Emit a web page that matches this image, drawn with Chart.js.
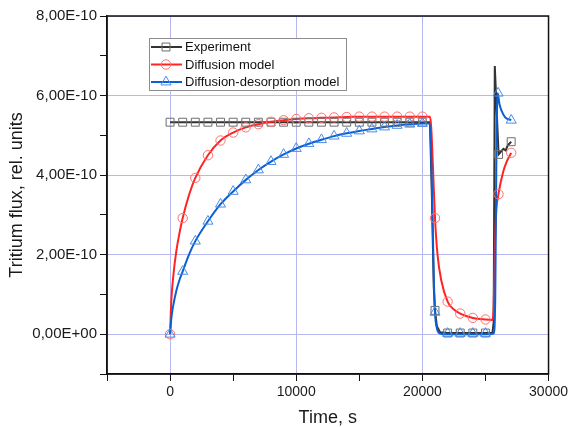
<!DOCTYPE html>
<html>
<head>
<meta charset="utf-8">
<script src="https://cdn.jsdelivr.net/npm/chart.js@4.4.1/dist/chart.umd.min.js"></script>
<style>
html, body { margin: 0; padding: 0; background: #fff; }
#wrap { width: 571px; height: 427px; }
</style>
</head>
<body>
<div id="wrap"><canvas id="chart_tritiumFlux"></canvas></div>
<script>
// time in s, flux in units of 1E-10 (rel. units)
var expLineTime = [0, 20600, 20750, 20900, 21000, 21150, 21400, 22000, 25000, 25550, 25650, 25740, 26040, 26250, 26430, 26600, 26770, 27040];
var expLineFlux = [5.33, 5.33, 3.5, 1.2, 0.6, 0.2, 0.05, 0.03, 0.03, 0.03, 0.3, 6.74, 4.52, 4.6, 4.66, 4.62, 4.75, 4.84];
var expMarkTime = [0, 1000, 2000, 3000, 4000, 5000, 6000, 7000, 8000, 9000, 10000, 11000, 12000, 13000, 14000, 15000, 16000, 17000, 18000, 19000, 20000, 21000, 22000, 23000, 24000, 25000, 26040, 27040];
var expMarkFlux = [5.33, 5.33, 5.33, 5.33, 5.33, 5.33, 5.33, 5.33, 5.33, 5.33, 5.33, 5.33, 5.33, 5.33, 5.33, 5.33, 5.33, 5.33, 5.33, 5.33, 5.33, 0.6, 0.03, 0.03, 0.03, 0.03, 4.52, 4.84];

var difLineTime = [0, 100, 250, 500, 750, 1000, 1500, 2000, 3000, 4000, 5000, 6000, 7000, 8000, 9000, 10000, 11000, 12000, 13000, 14000, 15000, 20000, 20600, 20700, 20850, 21000, 21200, 21500, 22000, 22500, 23000, 24000, 25000, 25550, 25650, 25750, 25850, 26030, 26400, 26700, 27040];
var difLineFlux = [0, 0.85, 1.45, 2.1, 2.55, 2.92, 3.5, 3.93, 4.5, 4.87, 5.07, 5.2, 5.28, 5.34, 5.38, 5.41, 5.43, 5.44, 5.45, 5.46, 5.47, 5.47, 5.47, 5.2, 4.1, 2.92, 2.0, 1.35, 0.82, 0.62, 0.52, 0.41, 0.37, 0.36, 0.7, 2.2, 3.05, 3.52, 4.08, 4.35, 4.56];
var difMarkTime = [0, 1000, 2000, 3000, 4000, 5000, 6000, 7000, 8000, 9000, 10000, 11000, 12000, 13000, 14000, 15000, 16000, 17000, 18000, 19000, 20000, 21000, 22000, 23000, 24000, 25000, 26030, 27040];
var difMarkFlux = [0, 2.92, 3.93, 4.5, 4.87, 5.07, 5.2, 5.28, 5.34, 5.38, 5.41, 5.43, 5.44, 5.45, 5.46, 5.47, 5.47, 5.47, 5.47, 5.47, 5.47, 2.92, 0.82, 0.52, 0.41, 0.37, 3.52, 4.56];

var desLineTime = [0, 100, 250, 500, 750, 1000, 1500, 2000, 3000, 4000, 5000, 6000, 7000, 8000, 9000, 10000, 11000, 12000, 13000, 14000, 15000, 16000, 17000, 18000, 19000, 20000, 20600, 20750, 20900, 21000, 21150, 21400, 22000, 25000, 25650, 25780, 25880, 25980, 26100, 26300, 26560, 27040];
var desLineFlux = [0, 0.4, 0.72, 1.1, 1.37, 1.58, 2.0, 2.34, 2.84, 3.27, 3.59, 3.88, 4.13, 4.34, 4.52, 4.67, 4.79, 4.89, 4.98, 5.05, 5.11, 5.16, 5.21, 5.25, 5.28, 5.3, 5.3, 3.8, 1.5, 0.55, 0.15, 0.02, 0, 0, 0.02, 1.0, 5.0, 6.06, 5.8, 5.6, 5.45, 5.38];
var desMarkTime = [0, 1000, 2000, 3000, 4000, 5000, 6000, 7000, 8000, 9000, 10000, 11000, 12000, 13000, 14000, 15000, 16000, 17000, 18000, 19000, 20000, 21000, 22000, 23000, 24000, 25000, 26000, 27040];
var desMarkFlux = [0, 1.58, 2.34, 2.84, 3.27, 3.59, 3.88, 4.13, 4.34, 4.52, 4.67, 4.79, 4.89, 4.98, 5.05, 5.11, 5.16, 5.21, 5.25, 5.28, 5.3, 0.55, 0.02, 0.02, 0.02, 0.02, 6.06, 5.38];

var legendLabels = ['Experiment', 'Diffusion model', 'Diffusion-desorption model'];

var FONT = "'Liberation Sans', Arial, sans-serif";

function pts(t, y) {
    return t.map(function (v, i) { return { x: v, y: y[i] }; });
}

var series = [
    { line: '#333333', mark: '#6e6e6e', style: 'rect', radius: 5.6 },
    { line: '#ff2424', mark: '#ff7070', style: 'circle', radius: 4.7 },
    { line: '#0b5fd4', mark: '#4a8ce8', style: 'triangle', radius: 5.8 }
];

function drawMarker(ctx, style, x, y, r) {
    ctx.beginPath();
    if (style === 'rect') {
        var s = Math.SQRT1_2 * r;
        ctx.rect(x - s, y - s, 2 * s, 2 * s);
    } else if (style === 'circle') {
        ctx.arc(x, y, r, 0, Math.PI * 2);
    } else {
        var a = 0;
        ctx.moveTo(x + Math.sin(a) * r, y - Math.cos(a) * r);
        a += Math.PI * 2 / 3;
        ctx.lineTo(x + Math.sin(a) * r, y - Math.cos(a) * r);
        a += Math.PI * 2 / 3;
        ctx.lineTo(x + Math.sin(a) * r, y - Math.cos(a) * r);
        ctx.closePath();
    }
    ctx.stroke();
}

var chart_tritiumFlux = new Chart(document.getElementById('chart_tritiumFlux'), {
    type: 'line',
    data: {
        datasets: [
            { data: pts(desMarkTime, desMarkFlux), showLine: false, pointStyle: 'triangle', pointRadius: series[2].radius, pointBorderColor: series[2].mark, pointBackgroundColor: 'rgba(0,0,0,0)', pointBorderWidth: 1 },
            { data: pts(difMarkTime, difMarkFlux), showLine: false, pointStyle: 'circle', pointRadius: series[1].radius, pointBorderColor: series[1].mark, pointBackgroundColor: 'rgba(0,0,0,0)', pointBorderWidth: 1 },
            { data: pts(expMarkTime, expMarkFlux), showLine: false, pointStyle: 'rect', pointRadius: series[0].radius, pointBorderColor: series[0].mark, pointBackgroundColor: 'rgba(0,0,0,0)', pointBorderWidth: 1 },
            { data: pts(desLineTime, desLineFlux), borderColor: series[2].line, borderWidth: 2, pointRadius: 0, cubicInterpolationMode: 'monotone', fill: false },
            { data: pts(difLineTime, difLineFlux), borderColor: series[1].line, borderWidth: 2, pointRadius: 0, cubicInterpolationMode: 'monotone', fill: false },
            { data: pts(expLineTime, expLineFlux), borderColor: series[0].line, borderWidth: 2, pointRadius: 0, tension: 0, fill: false }
        ]
    },
    options: {
        animation: false,
        responsive: true,
        maintainAspectRatio: false,
        layout: { padding: { left: 0, right: 22, top: 16, bottom: 0 } },
        plugins: {
            legend: { display: false },
            tooltip: { enabled: false }
        },
        scales: {
            x: {
                type: 'linear',
                min: -5000,
                max: 30000,
                afterFit: function (scale) { scale.height = 53; },
                border: { color: '#111', width: 1.5 },
                grid: {
                    color: function (c) { return (c.tick && c.tick.value % 10000 === 0) ? '#b7b7f2' : 'rgba(0,0,0,0)'; },
                    tickColor: '#111',
                    tickLength: 7,
                    lineWidth: 1
                },
                ticks: {
                    stepSize: 5000,
                    autoSkip: false,
                    maxRotation: 0,
                    padding: 3,
                    color: '#1a1a1a',
                    font: { family: FONT, size: 14 },
                    callback: function (value) { return value % 10000 === 0 ? String(value) : ''; }
                },
                title: {
                    display: true,
                    text: 'Time, s',
                    color: '#1a1a1a',
                    font: { family: FONT, size: 18, lineHeight: 1 },
                    padding: { top: 0, bottom: 0 }
                }
            },
            y: {
                type: 'linear',
                min: -1,
                max: 8,
                afterFit: function (scale) { scale.width = 107; },
                border: { color: '#111', width: 1.5 },
                grid: {
                    color: function (c) { return (c.tick && c.tick.value >= 0 && c.tick.value % 2 === 0) ? '#b7b7f2' : 'rgba(0,0,0,0)'; },
                    tickColor: '#111',
                    tickLength: 7,
                    lineWidth: 1
                },
                ticks: {
                    stepSize: 1,
                    autoSkip: false,
                    padding: 3,
                    color: '#1a1a1a',
                    font: { family: FONT, size: 15 },
                    callback: function (value) {
                        if (value < 0 || value % 2 !== 0) return '';
                        if (value === 0) return '0,00E+00';
                        return value.toFixed(2).replace('.', ',') + 'E-10';
                    }
                },
                title: {
                    display: true,
                    text: 'Tritium flux, rel. units',
                    color: '#1a1a1a',
                    font: { family: FONT, size: 18, lineHeight: 1 },
                    padding: { top: 8, bottom: 0 }
                }
            }
        }
    },
    plugins: [{
        id: 'whiteBackground',
        beforeDraw: function (chart) {
            var ctx = chart.ctx;
            ctx.save();
            ctx.fillStyle = 'white';
            ctx.fillRect(0, 0, chart.width, chart.height);
            ctx.restore();
        }
    }, {
        id: 'frameAndLegend',
        afterDatasetsDraw: function (chart) {
            var ctx = chart.ctx;
            var a = chart.chartArea;
            ctx.save();
            ctx.strokeStyle = '#111';
            ctx.lineWidth = 1.5;
            ctx.strokeRect(a.left, a.top, a.right - a.left, a.bottom - a.top);

            // legend box
            var bx = 149.5, by = 38.5, bw = 197, bh = 52;
            ctx.fillStyle = '#fff';
            ctx.fillRect(bx, by, bw, bh);
            ctx.strokeStyle = '#8c8c8c';
            ctx.lineWidth = 1;
            ctx.strokeRect(bx, by, bw, bh);
            ctx.font = '13px ' + FONT;
            ctx.textBaseline = 'middle';
            ctx.textAlign = 'left';
            for (var i = 0; i < legendLabels.length; i++) {
                var y = 47 + i * 17.5;
                var s = series[i];
                ctx.strokeStyle = s.line;
                ctx.lineWidth = 2;
                ctx.beginPath();
                ctx.moveTo(151, y);
                ctx.lineTo(182, y);
                ctx.stroke();
                ctx.strokeStyle = s.mark;
                ctx.lineWidth = 1;
                drawMarker(ctx, s.style, 166, y, s.radius);
                ctx.fillStyle = '#111';
                ctx.fillText(legendLabels[i], 185, y + 0.5);
            }
            ctx.restore();
        }
    }]
});
</script>
</body>
</html>
